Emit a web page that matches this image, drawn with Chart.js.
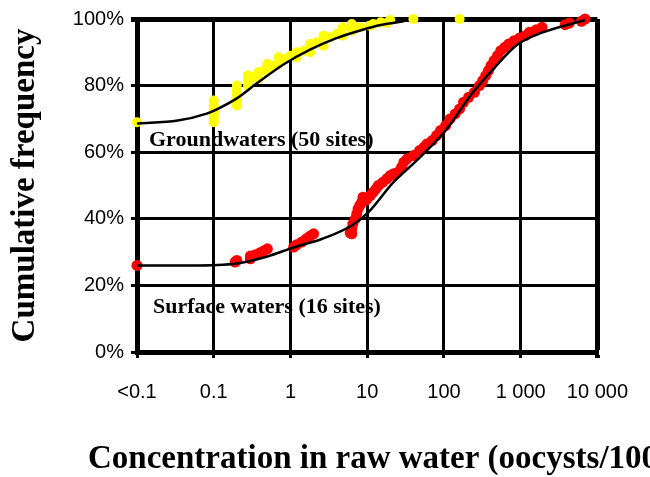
<!DOCTYPE html>
<html>
<head>
<meta charset="utf-8">
<script src="https://cdn.jsdelivr.net/npm/chart.js@4.4.0/dist/chart.umd.min.js"></script>
<style>
html, body { margin: 0; padding: 0; background: #fff; }
</style>
</head>
<body>
<canvas id="cdfChart" width="650" height="477"></canvas>
<script>
// x ticks (log axis), first one stands for "below detection"
var xTickValues = [0.01, 0.1, 1, 10, 100, 1000, 10000];
var xTickLabels = ["<0.1", "0.1", "1", "10", "100", "1 000", "10 000"];
var yTickValues = [0, 20, 40, 60, 80, 100];

// groundwaters (yellow points)
var groundX = [0.01, 0.1, 0.1, 0.1, 0.1, 0.1, 0.1, 0.1, 0.2, 0.2, 0.2, 0.2, 0.2,
  0.28, 0.28, 0.28, 0.33, 0.38, 0.38, 0.45, 0.5, 0.5, 0.6, 0.7, 0.7, 0.8, 1, 1.2, 1.2,
  1.5, 1.8, 1.8, 2.2, 2.7, 2.7, 3.3, 4, 4.8, 4.8, 6.3, 6.3, 8, 10.7, 12, 15, 18, 20, 40, 160];
var groundY = [69, 69, 70, 71, 72, 73, 74, 75.5, 74, 75.5, 77, 78.5, 80,
  80, 81.5, 83, 82.5, 82, 84, 84.5, 85, 86.5, 86, 86.5, 88.5, 88, 89, 88.5, 90,
  90.5, 90, 92.5, 93, 92, 95, 94.5, 95.5, 95, 97.5, 96.5, 98.5, 97.5, 98, 98.5, 99, 98.8, 99.7, 100, 100];

// surface waters (red points)
var surfaceX = [0.01, 0.19, 0.2, 0.3, 0.3, 0.35, 0.4, 0.45, 0.5, 1.1, 1.2, 1.4, 1.6, 1.8, 2,
  6, 6.3, 6.3, 6.5, 7, 7.3, 7.6, 8, 8.5, 8.8, 9.5, 10, 11, 12, 13, 14, 16, 18, 20, 22, 25, 28,
  30, 33, 40, 48, 55, 60, 70, 80, 90, 105, 120, 140, 160, 180, 210, 250, 290, 320, 350, 380,
  410, 450, 500, 550, 620, 700, 820, 970, 1150, 1300, 1600, 1900, 3800, 4300, 6200, 6900];
var surfaceY = [26, 27, 27.5, 28, 28.8, 29.2, 29.8, 30.4, 31, 31.5, 32.2, 33, 34, 34.8, 35.5,
  35.8, 35.5, 37, 38.5, 40, 41.5, 43, 44, 45, 46.5, 45.5, 46, 47, 48, 49, 50, 51, 52, 53, 53.5, 54, 55.5,
  57, 58, 59, 60.5, 61.5, 62.5, 63.5, 65, 66.5, 68, 70, 71.5, 73, 75, 76.5, 78, 80, 81.5, 83, 84.5,
  86, 87.5, 89, 90.5, 91.5, 92.5, 93.5, 94.3, 95, 96, 96.8, 97.5, 98.3, 98.8, 99.3, 100];

// fitted curves
var groundFitX = [0.01, 0.034, 0.081, 0.108, 0.195, 0.38, 0.83, 1.8, 3.9, 8.5, 15, 30];
var groundFitY = [68.6, 69.5, 71.6, 72.8, 76, 81, 86.5, 90.8, 94.2, 96.7, 98.2, 99.3];
var surfaceFitX = [0.01, 0.05, 0.2, 0.5, 1.1, 2.6, 6.3, 10.4, 22, 45, 105, 230, 460, 900, 1900, 6900];
var surfaceFitY = [26, 26, 26.6, 28.7, 31.4, 34, 38, 42, 51, 57.7, 66.5, 77.5, 85.5, 92.3, 95.9, 99.7];

var groundLabel = "Groundwaters (50 sites)";
var surfaceLabel = "Surface waters (16 sites)";
var xTitle = "Concentration in raw water (oocysts/100 L)";
var yTitle = "Cumulative frequency";

function pairs(xs, ys) {
  return xs.map(function (x, i) { return { x: x, y: ys[i] }; });
}

var textPlugin = {
  id: 'textPlugin',
  beforeDraw: function (chart) {
    var ctx = chart.ctx;
    ctx.save();
    ctx.fillStyle = '#000';
    ctx.font = 'bold 22px "Liberation Serif"';
    ctx.textBaseline = 'alphabetic';
    ctx.fillText(groundLabel, 149, 146);
    ctx.fillText(surfaceLabel, 153, 313);
    ctx.restore();
  },
  afterDraw: function (chart) {
    var ctx = chart.ctx;
    ctx.save();
    ctx.fillStyle = '#000';
    ctx.font = 'bold 33px "Liberation Serif"';
    ctx.textBaseline = 'alphabetic';
    ctx.fillText(xTitle, 88, 468);
    ctx.restore();
  }
};

var ctx = document.getElementById("cdfChart").getContext('2d');
var cdfChart = new Chart(ctx, {
  type: 'scatter',
  data: {
    datasets: [
      {
        type: 'line',
        label: "Groundwaters fit",
        data: pairs(groundFitX, groundFitY),
        borderColor: '#000',
        borderWidth: 2.5,
        pointRadius: 0,
        fill: false,
        cubicInterpolationMode: 'monotone',
        clip: false,
        order: 0
      },
      {
        type: 'line',
        label: "Surface waters fit",
        data: pairs(surfaceFitX, surfaceFitY),
        borderColor: '#000',
        borderWidth: 2.5,
        pointRadius: 0,
        fill: false,
        cubicInterpolationMode: 'monotone',
        clip: false,
        order: 0
      },
      {
        label: groundLabel,
        data: pairs(groundX, groundY),
        backgroundColor: '#ffff00',
        borderWidth: 0,
        pointRadius: 5,
        clip: false,
        order: 1
      },
      {
        label: surfaceLabel,
        data: pairs(surfaceX, surfaceY),
        backgroundColor: '#ff0000',
        borderWidth: 0,
        pointRadius: 5.5,
        clip: false,
        order: 1
      }
    ]
  },
  options: {
    responsive: false,
    animation: false,
    layout: { padding: { left: 0, top: 14, right: 37, bottom: 0 } },
    plugins: {
      legend: { display: false },
      tooltip: { enabled: false }
    },
    scales: {
      x: {
        type: 'logarithmic',
        min: 0.01,
        max: 10000,
        afterBuildTicks: function (s) {
          s.ticks = xTickValues.map(function (v) { return { value: v }; });
        },
        afterFit: function (s) { s.height = 125; },
        grid: {
          color: '#000',
          lineWidth: function (c) { return c.index === xTickValues.length - 1 ? 5 : 3; },
          tickLength: 6
        },
        border: { color: '#000', width: 5 },
        ticks: {
          color: '#000',
          font: { family: 'Liberation Sans', size: 20 },
          padding: 22,
          maxRotation: 0,
          autoSkip: false,
          callback: function (v, i) { return xTickLabels[i]; }
        }
      },
      y: {
        min: 0,
        max: 100,
        afterBuildTicks: function (s) {
          s.ticks = yTickValues.map(function (v) { return { value: v }; });
        },
        afterFit: function (s) { s.width = 137; },
        title: {
          display: true,
          text: yTitle,
          color: '#000',
          font: { family: 'Liberation Serif', size: 33, weight: 'bold' },
          padding: { top: 6, bottom: 0 }
        },
        grid: {
          color: '#000',
          lineWidth: function (c) { return c.index === yTickValues.length - 1 ? 5 : 3; },
          tickLength: 6
        },
        border: { color: '#000', width: 5 },
        ticks: {
          color: '#000',
          font: { family: 'Liberation Sans', size: 20 },
          padding: 7,
          callback: function (v) { return v + '%'; }
        }
      }
    }
  },
  plugins: [textPlugin]
});
</script>
</body>
</html>
